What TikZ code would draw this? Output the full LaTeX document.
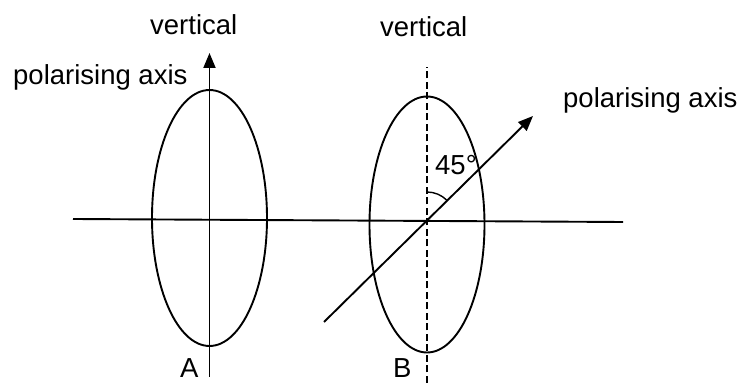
\documentclass[tikz,border=0pt]{standalone}
\usepackage{fontspec}
\setmainfont{Liberation Sans}
\usetikzlibrary{arrows.meta,shapes.geometric}
\begin{document}
\begin{tikzpicture}[x=1pt,y=1pt,
  lbl/.style={inner sep=0pt,anchor=base west,font=\fontsize{27.5pt}{30pt}\selectfont},
  lens/.style={draw,ellipse,line width=1.9pt,inner sep=0pt,minimum width=115pt,minimum height=256pt},
  axisline/.style={line width=1.9pt},
  tip/.style={-{Triangle[length=15pt,width=12pt]}},
  dashline/.style={line width=1.8pt,dash pattern=on 7pt off 3.5pt}]
\useasboundingbox (0,0) rectangle (740,383);
% lenses
\node[lens] (LA) at (209.5,165) {};
\node[lens] (LB) at (427,158.5) {};
% coordinates
\coordinate (H1) at (73,164);
\coordinate (H2) at (623,161);
\coordinate (Abot) at (209.5,6);
\coordinate (Atop) at (209.5,330);
\coordinate (Bbot) at (427,0);
\coordinate (Btop) at (427,316);
\coordinate (O) at (427,163);
\coordinate (Dbot) at (324,61);
\coordinate (Dtop) at (533,267);
% lines
\draw[axisline] (H1) -- (H2);
\draw[axisline,tip] (Abot) -- (Atop);
\draw[dashline] (Bbot) -- (Btop);
\draw[axisline,tip] (Dbot) -- (Dtop);
\draw[line width=1.4pt] ([shift={(90:28)}]O) arc[start angle=90,end angle=45,radius=28];
% labels
\node[lbl] (v1) at (150,348) {vertical};
\node[lbl] (v2) at (380,346) {vertical};
\node[lbl] (p1) at (13,298) {polarising axis};
\node[lbl] (p2) at (563,275) {polarising axis};
\node[lbl] (ang) at (435,208) {45°};
\node[lbl] (la) at (180,5) {A};
\node[lbl] (lb) at (393,5) {B};
\end{tikzpicture}
\end{document}
